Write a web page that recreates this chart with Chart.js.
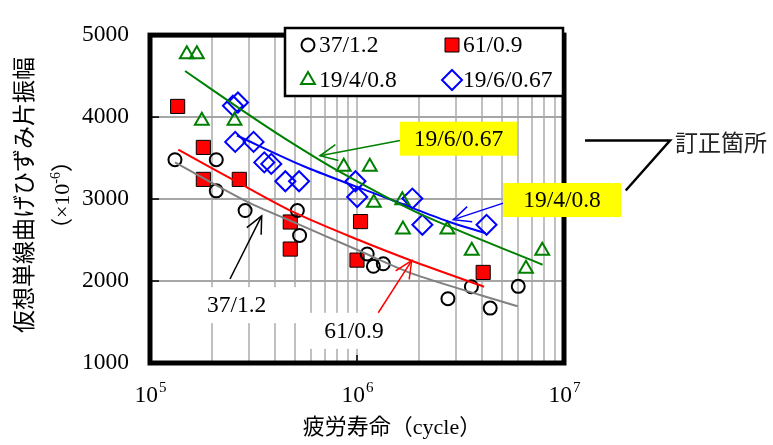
<!DOCTYPE html>
<html><head><meta charset="utf-8">
<script src="https://cdn.jsdelivr.net/npm/chart.js@4/dist/chart.umd.min.js"></script>
<style>html,body{margin:0;padding:0;background:#fff}#wrap{width:773px;height:445px;position:relative}</style>
</head><body><div id="wrap"><canvas id="c"></canvas></div>
<script>
// ---- data (fatigue life in cycles, strain amplitude x10^-6) ----
const s37x = [1.32e5, 2.09e5, 2.09e5, 2.88e5, 5.15e5, 5.28e5, 1.12e6, 1.20e6, 1.34e6, 2.75e6, 3.57e6, 4.40e6, 6.01e6];
const s37y = [3480, 3480, 3100, 2860, 2860, 2556, 2330, 2180, 2210, 1784, 1930, 1670, 1935];
const s61x = [1.36e5, 1.81e5, 1.81e5, 2.70e5, 4.76e5, 4.76e5, 1.00e6, 1.04e6, 4.07e6];
const s61y = [4130, 3630, 3240, 3240, 2720, 2390, 2255, 2725, 2105];
const s194x = [1.506e5, 1.684e5, 1.78e5, 2.56e5, 8.63e5, 1.153e6, 1.206e6, 1.655e6, 1.667e6, 2.734e6, 3.585e6, 6.55e6, 7.85e6];
const s194y = [4765, 4765, 3955, 3955, 3395, 3395, 2955, 2985, 2630, 2630, 2370, 2150, 2370];
const s196x = [2.515e5, 2.66e5, 2.58e5, 3.165e5, 3.565e5, 3.855e5, 4.506e5, 5.25e5, 9.83e5, 1.002e6, 1.851e6, 2.069e6, 4.224e6];
const s196y = [4139, 4178, 3697, 3697, 3447, 3429, 3217, 3217, 3217, 3025, 3006, 2686, 2686];
// trend curves
const t37x = [1.32e5, 2.94e5, 4.94e5, 1.02e6, 1.88e6, 5.97e6];
const t37y = [3447, 2968, 2718, 2372, 2084, 1692];
const t61x = [1.37e5, 2.63e5, 4.94e5, 1.02e6, 1.85e6, 4.11e6];
const t61y = [3602, 3210, 2840, 2500, 2245, 1930];
const t194x = [1.477e5, 2.78e5, 4.51e5, 8.32e5, 2.03e6, 7.88e6];
const t194y = [4562, 4085, 3735, 3328, 2815, 2199];
const t196x = [2.63e5, 5.53e5, 9.84e5, 1.54e6, 2.73e6, 4.19e6];
const t196y = [3775, 3400, 3155, 2970, 2730, 2583];
// axes
const xTickValues = [1e5,2e5,3e5,4e5,5e5,6e5,7e5,8e5,9e5,1e6,2e6,3e6,4e6,5e6,6e6,7e6,8e6,9e6,1e7];
const xTickBase = '10';
const xTickExponents = {100000:'5', 1000000:'6', 10000000:'7'};
const yTickValues = [1000, 2000, 3000, 4000, 5000];
const seriesNames = ['37/1.2', '61/0.9', '19/4/0.8', '19/6/0.67'];
const xTitle = '疲労寿命（cycle）';
const yTitle = '仮想単線曲げひずみ片振幅';
const yUnitParts = ['（×10', '-6', '）'];
const noteText = '訂正箇所';

const pts = (xs, ys) => xs.map((x, i) => ({x, y: ys[i]}));
const SERIF = "'Liberation Serif','Times New Roman',serif";
const CJK = "'Noto Sans CJK JP','Noto Sans CJK SC',sans-serif";
const MIX = "'Liberation Serif','Noto Sans CJK JP',serif";
const FS = 23.5;

const GREEN = '#008000', BLUE = '#0000ff', RED = '#ff0000', GRAY = '#808080';

const arrowNotes = [
  {tail:[1.613e6,3713], tip:[6.626e5,3528], color:GREEN},
  {tail:[5.091e6,2950], tip:[2.919e6,2749], color:BLUE},
  {tail:[2.435e5,2025], tip:[3.464e5,2795], color:'#000000'},
  {tail:[1.267e6,1613], tip:[1.838e6,2249], color:RED}
];
const boxNotes = [
  {text:'19/6/0.67', at:[3.093e6,3736], w:117, h:34, fill:'#ffff00'},
  {text:'19/4/0.8', at:[9.779e6,2988], w:118, h:34, fill:'#ffff00'}
];
const plainNotes = [
  {text:seriesNames[0], at:[2.622e5,1705], w:124, h:36},
  {text:seriesNames[1], at:[9.67e5,1393], w:100, h:36}
];
const bracket = {pts:[[1.263e7,3713],[3.252e7,3713],[1.987e7,3104]], textAt:[3.438e7,3694]};

function marker(ctx, style, x, y, color, fill) {
  ctx.save();
  ctx.lineWidth = style === 'rect' ? 1 : 2;
  ctx.strokeStyle = color;
  ctx.beginPath();
  if (style === 'circle') { ctx.arc(x, y, 6.5, 0, Math.PI*2); }
  else if (style === 'rect') { ctx.rect(x-7, y-7, 14, 14); }
  else if (style === 'triangle') { const r=8; ctx.moveTo(x, y-r); ctx.lineTo(x+r*0.866, y+r/2); ctx.lineTo(x-r*0.866, y+r/2); ctx.closePath(); }
  else { const r=10; ctx.moveTo(x, y-r); ctx.lineTo(x+r, y); ctx.lineTo(x, y+r); ctx.lineTo(x-r, y); ctx.closePath(); }
  if (fill) { ctx.fillStyle = fill; ctx.fill(); }
  ctx.stroke();
  ctx.restore();
}

function arrow(ctx, x1, y1, x2, y2, color) {
  ctx.save();
  ctx.strokeStyle = color; ctx.lineWidth = 1.5;
  ctx.beginPath(); ctx.moveTo(x1, y1); ctx.lineTo(x2, y2); ctx.stroke();
  const a = Math.atan2(y1 - y2, x1 - x2), L = 19, h = 25 * Math.PI / 180;
  ctx.beginPath();
  ctx.moveTo(x2 + L*Math.cos(a-h), y2 + L*Math.sin(a-h));
  ctx.lineTo(x2, y2);
  ctx.lineTo(x2 + L*Math.cos(a+h), y2 + L*Math.sin(a+h));
  ctx.stroke();
  ctx.restore();
}

const deco = {
  id: 'deco',
  beforeDatasetsDraw(chart) {
    const {ctx, scales:{x, y}} = chart;
    ctx.save();
    plainNotes.forEach(n => {
      const cx = x.getPixelForValue(n.at[0]), cy = y.getPixelForValue(n.at[1]);
      ctx.fillStyle = '#fff';
      ctx.fillRect(cx - n.w/2 + 3, cy - n.h/2, n.w, n.h);
      ctx.fillStyle = '#000';
      ctx.font = FS + 'px ' + SERIF;
      ctx.textAlign = 'center'; ctx.textBaseline = 'middle';
      ctx.fillText(n.text, cx, cy + 1);
    });
    ctx.restore();
  },
  afterDatasetsDraw(chart) {
    const {ctx, chartArea:ca, scales:{x, y}} = chart;
    const P = (v) => [x.getPixelForValue(v[0]), y.getPixelForValue(v[1])];
    ctx.save();
    // inside tick marks
    ctx.strokeStyle = '#000'; ctx.lineWidth = 1.5;
    [2000, 3000, 4000].forEach(v => { const py = y.getPixelForValue(v); ctx.beginPath(); ctx.moveTo(ca.left, py); ctx.lineTo(ca.left + 9, py); ctx.stroke(); });
    [1e6].forEach(v => { const px = x.getPixelForValue(v); ctx.beginPath(); ctx.moveTo(px, ca.bottom); ctx.lineTo(px, ca.bottom - 8); ctx.stroke(); });
    // plot border
    ctx.lineWidth = 5; ctx.strokeStyle = '#000';
    ctx.strokeRect(ca.left, ca.top, ca.right - ca.left, ca.bottom - ca.top);
    // x tick labels with superscript exponent
    ctx.fillStyle = '#000'; ctx.textBaseline = 'alphabetic';
    Object.keys(xTickExponents).forEach(k => {
      const px = x.getPixelForValue(Number(k));
      ctx.font = FS + 'px ' + SERIF;
      const wb = ctx.measureText(xTickBase).width;
      ctx.font = '15px ' + SERIF;
      const we = ctx.measureText(xTickExponents[k]).width;
      const left = px - (wb + we) / 2;
      ctx.font = FS + 'px ' + SERIF; ctx.textAlign = 'left';
      ctx.fillText(xTickBase, left, 402);
      ctx.font = '15px ' + SERIF;
      ctx.fillText(xTickExponents[k], left + wb + 1, 392);
    });
    // legend
    const lx = 285, ly = 28, lw = 278, lh = 68;
    ctx.fillStyle = '#fff'; ctx.fillRect(lx, ly, lw, lh);
    ctx.lineWidth = 2.5; ctx.strokeStyle = '#000'; ctx.strokeRect(lx, ly, lw, lh);
    const items = [
      {style:'circle', color:'#000', fill:null, x:308, y:45, name:seriesNames[0]},
      {style:'rect', color:'#000', fill:RED, x:452, y:45, name:seriesNames[1]},
      {style:'triangle', color:GREEN, fill:null, x:308, y:80, name:seriesNames[2]},
      {style:'rectRot', color:BLUE, fill:null, x:452, y:80, name:seriesNames[3]}
    ];
    items.forEach(it => {
      marker(ctx, it.style, it.x, it.y, it.color, it.fill);
      ctx.fillStyle = '#000'; ctx.font = FS + 'px ' + SERIF;
      ctx.textAlign = 'left'; ctx.textBaseline = 'middle';
      ctx.fillText(it.name, it.x + 11, it.y + 1);
    });
    // arrows
    arrowNotes.forEach(a => { const t = P(a.tail), h = P(a.tip); arrow(ctx, t[0], t[1], h[0], h[1], a.color); });
    // yellow labels
    boxNotes.forEach(n => {
      const [cx, cy] = P(n.at);
      ctx.fillStyle = n.fill; ctx.fillRect(cx - n.w/2, cy - n.h/2, n.w, n.h);
      ctx.fillStyle = '#000'; ctx.font = FS + 'px ' + SERIF;
      ctx.textAlign = 'center'; ctx.textBaseline = 'middle';
      ctx.fillText(n.text, cx, cy + 1);
    });
    // correction bracket
    const b = bracket.pts.map(P);
    ctx.strokeStyle = '#000'; ctx.lineWidth = 2.5;
    ctx.beginPath(); ctx.moveTo(b[0][0], b[0][1]); ctx.lineTo(b[1][0], b[1][1]); ctx.lineTo(b[2][0], b[2][1]); ctx.stroke();
    const tp = P(bracket.textAt);
    ctx.fillStyle = '#222'; ctx.font = '23px ' + CJK;
    ctx.textAlign = 'left'; ctx.textBaseline = 'middle';
    ctx.fillText(noteText, tp[0], tp[1]);
    // axis titles
    ctx.fillStyle = '#000';
    ctx.font = '22px ' + MIX; ctx.textAlign = 'center'; ctx.textBaseline = 'middle';
    ctx.fillText(xTitle, 392, 428);
    ctx.translate(23, 195); ctx.rotate(-Math.PI/2);
    ctx.font = '23px ' + CJK; ctx.fillText(yTitle, 0, 0);
    // unit line (×10^-6) with superscript
    const f1 = '22px ' + MIX, f2 = '14px ' + SERIF;
    ctx.font = f1; const w0 = ctx.measureText(yUnitParts[0]).width, w2 = ctx.measureText(yUnitParts[2]).width;
    ctx.font = f2; const w1 = ctx.measureText(yUnitParts[1]).width;
    let ux = -(w0 + w1 + w2) / 2;
    ctx.textAlign = 'left'; ctx.textBaseline = 'alphabetic';
    ctx.font = f1; ctx.fillText(yUnitParts[0], ux, 46); ux += w0;
    ctx.font = f2; ctx.fillText(yUnitParts[1], ux, 37); ux += w1;
    ctx.font = f1; ctx.fillText(yUnitParts[2], ux, 46);
    ctx.restore();
  }
};

const lineDs = (xs, ys, color) => ({type:'line', data: pts(xs, ys), borderColor: color, borderWidth: 2, pointRadius: 0, fill: false, showLine: true, tension: 0.3, order: 0});

new Chart(document.getElementById('c'), {
  type: 'scatter',
  data: {
    datasets: [
      lineDs(t37x, t37y, GRAY),
      lineDs(t61x, t61y, RED),
      lineDs(t194x, t194y, GREEN),
      lineDs(t196x, t196y, BLUE),
      {label: seriesNames[0], data: pts(s37x, s37y), pointStyle:'circle', pointRadius:6.5, borderWidth:2, borderColor:'#000', backgroundColor:'rgba(0,0,0,0)', order:1},
      {label: seriesNames[1], data: pts(s61x, s61y), pointStyle:'rect', pointRadius:10, borderWidth:1, borderColor:'#000', backgroundColor:RED, order:1},
      {label: seriesNames[2], data: pts(s194x, s194y), pointStyle:'triangle', pointRadius:8, borderWidth:2, borderColor:GREEN, backgroundColor:'rgba(0,0,0,0)', order:1},
      {label: seriesNames[3], data: pts(s196x, s196y), pointStyle:'rectRot', pointRadius:10, borderWidth:2, borderColor:BLUE, backgroundColor:'rgba(0,0,0,0)', order:1}
    ]
  },
  options: {
    responsive: true, maintainAspectRatio: false, animation: false,
    layout: {padding: {left: 0, top: 17, right: 209, bottom: 0}},
    plugins: {legend: {display: false}, tooltip: {enabled: false}},
    scales: {
      x: {
        type: 'logarithmic', min: 1e5, max: 1e7,
        afterFit(s) { s.height = 82; },
        afterBuildTicks(s) { s.ticks = xTickValues.map(v => ({value: v})); },
        ticks: {autoSkip: false, maxRotation: 0, padding: 14, color: 'rgba(0,0,0,0)', font: {family: SERIF, size: 12},
          callback: () => ''},
        grid: {color: '#c0c0c0', lineWidth: 2, drawTicks: false},
        border: {display: false}
      },
      y: {
        min: 1000, max: 5000,
        afterFit(s) { s.width = 150; },
        afterBuildTicks(s) { s.ticks = yTickValues.map(v => ({value: v})); },
        ticks: {padding: 21, color: '#000', font: {family: SERIF, size: FS}, callback: v => String(v)},
        grid: {color: '#a6a6a6', lineWidth: 2, drawTicks: false},
        border: {display: false}
      }
    }
  },
  plugins: [deco]
});
</script></body></html>
